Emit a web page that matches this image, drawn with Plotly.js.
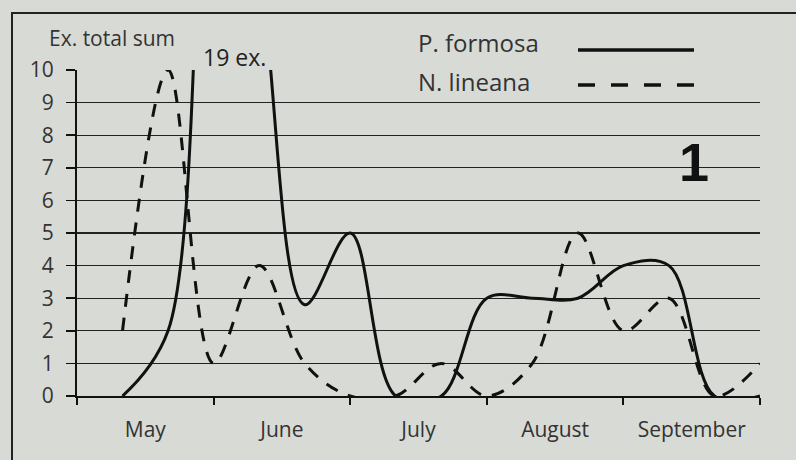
<!DOCTYPE html>
<html>
<head>
<meta charset="utf-8">
<script src="https://cdn.plot.ly/plotly-3.0.1.min.js"></script>
<style>
  html, body { margin: 0; padding: 0; background: #d8dad5; }
  #chart { width: 796px; height: 460px; position: absolute; left: 0; top: 0; }
  #frame { position: absolute; left: 11px; top: 12px; width: 900px; height: 600px;
           border-left: 2.5px solid #222; border-top: 2.5px solid #222; pointer-events: none; }
</style>
</head>
<body>
<div id="chart"></div>
<div id="frame"></div>
<script>
// ten-day periods (decades) May..September, index 1..15
const periods = [1, 2, 3, 4, 5, 6, 7, 8, 9, 10, 11, 12, 13, 14, 15];
const pFormosa = [0, 2, 19, 13, 2.8, 5, 0, 0, 3, 3, 3, 4, 4, 0, 0];
const nLineana = [2, 10, 1, 4, 1, 0, 0, 1, 0, 1, 5, 2, 3, 0, 1];
const monthLabels = ['May', 'June', 'July', 'August', 'September'];
const monthCenters = [1.5, 4.5, 7.5, 10.5, 13.5];
const monthBounds = [0, 3, 6, 9, 12, 15];
const yTicks = [0, 1, 2, 3, 4, 5, 6, 7, 8, 9, 10];

const FONT = 'Open Sans, Lato, sans-serif';
const INK = '#111';

const traces = [
  { x: periods, y: pFormosa, name: 'P. formosa', type: 'scatter', mode: 'lines',
    line: { color: INK, width: 3, shape: 'spline', smoothing: 1 } },
  { x: periods, y: nLineana, name: 'N. lineana', type: 'scatter', mode: 'lines',
    line: { color: INK, width: 3, shape: 'spline', smoothing: 1, dash: '13px,11px' } }
];

const layout = {
  width: 796, height: 460,
  paper_bgcolor: '#d8dad5', plot_bgcolor: '#d8dad5',
  margin: { l: 77, r: 36, t: 70, b: 64 },
  showlegend: false,
  font: { family: FONT, size: 20, color: '#333' },
  xaxis: {
    range: [0, 15], tickmode: 'array', tickvals: monthCenters, ticktext: monthLabels,
    ticks: '', showgrid: false, zeroline: false, showline: true, linecolor: INK, linewidth: 2,
    ticklabelstandoff: 14, tickfont: { family: FONT, size: 21, color: '#333' },
    minor: { tickmode: 'array', tickvals: monthBounds, ticks: 'outside', ticklen: 7,
             tickwidth: 2, tickcolor: INK, showgrid: false }
  },
  yaxis: {
    range: [0, 10], tickmode: 'array', tickvals: yTicks, ticks: 'outside', ticklen: 9,
    tickwidth: 1.5, tickcolor: INK, showgrid: true, gridcolor: '#222', gridwidth: 1.3,
    zeroline: false, showline: true, linecolor: INK, linewidth: 2,
    ticklabelstandoff: 8, tickfont: { family: FONT, size: 21, color: '#333' }
  },
  annotations: [
    { text: 'Ex. total sum', xref: 'paper', yref: 'paper', x: -0.044, y: 1.098,
      xanchor: 'left', yanchor: 'middle', showarrow: false, font: { family: FONT, size: 21, color: '#333' } },
    { text: '19 ex.', xref: 'paper', yref: 'paper', x: 0.2313, y: 1.04, xanchor: 'center', yanchor: 'middle',
      showarrow: false, font: { family: FONT, size: 23, color: '#222' } },
    { text: 'P. formosa', xref: 'paper', yref: 'paper', x: 0.4963, y: 1.083,
      xanchor: 'left', yanchor: 'middle', showarrow: false, font: { family: FONT, size: 24, color: '#333' } },
    { text: 'N. lineana', xref: 'paper', yref: 'paper', x: 0.4963, y: 0.966,
      xanchor: 'left', yanchor: 'middle', showarrow: false, font: { family: FONT, size: 24, color: '#333' } },
    { text: '<b>1</b>', xref: 'paper', yref: 'paper', x: 0.9034, y: 0.718,
      xanchor: 'center', yanchor: 'middle', showarrow: false,
      font: { family: 'Liberation Sans, Arial, sans-serif', size: 54, color: '#111' } }
  ],
  shapes: [
    { type: 'line', xref: 'paper', yref: 'paper', x0: 0.7335, x1: 0.9034, y0: 1.061, y1: 1.061,
      line: { color: INK, width: 3.5 } },
    { type: 'line', xref: 'paper', yref: 'paper', x0: 0.7335, x1: 0.9034, y0: 0.954, y1: 0.954,
      line: { color: INK, width: 3.5, dash: '17px,16px' } }
  ]
};

Plotly.newPlot('chart', traces, layout, { staticPlot: true });
</script>
</body>
</html>
